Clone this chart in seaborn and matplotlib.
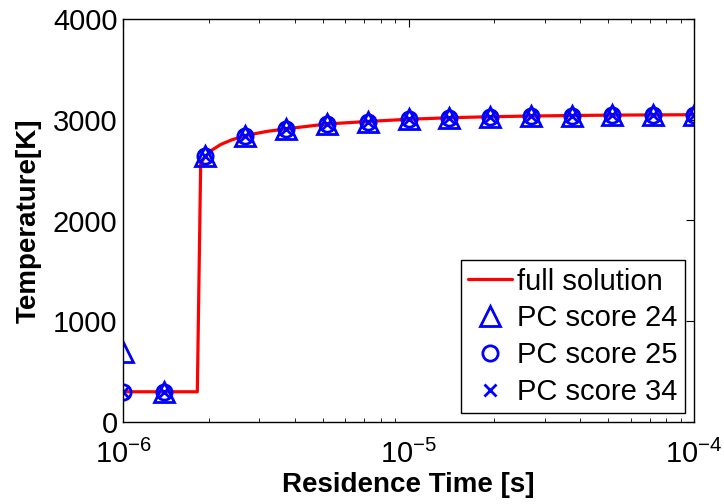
import numpy as np
import matplotlib
matplotlib.use("Agg")
import matplotlib.pyplot as plt
import matplotlib.ticker as mticker
import seaborn as sns

# Full solution (temperature vs. residence time)
t_full = [1.0e-6, 1.82e-6, 1.87e-6, 1.93e-6, 2.05e-6, 2.2e-6, 2.4e-6, 2.68e-6,
          3.2e-6, 3.73e-6, 5.18e-6, 7.2e-6, 1.0e-5, 1.39e-5, 1.93e-5, 2.68e-5,
          3.73e-5, 5.18e-5, 7.2e-5, 1.0e-4]
T_full = [300, 300, 2560, 2630, 2700, 2755, 2800, 2843,
          2885, 2910, 2958, 2983, 3005, 3020, 3030, 3037,
          3042, 3046, 3048, 3050]

# Sampled residence times for the PC-score reconstructions
t_pc = [1.0e-6, 1.39e-6, 1.93e-6, 2.68e-6, 3.73e-6, 5.18e-6, 7.2e-6, 1.0e-5,
        1.39e-5, 1.93e-5, 2.68e-5, 3.73e-5, 5.18e-5, 7.2e-5, 1.0e-4]
T_pc24 = [690, 300, 2637, 2843, 2910, 2960, 2982, 3008,
          3020, 3028, 3035, 3040, 3045, 3048, 3050]
T_pc25 = [298, 300, 2637, 2843, 2910, 2960, 2982, 3008,
          3020, 3028, 3035, 3040, 3045, 3048, 3050]
T_pc34 = [298, 300, 2637, 2843, 2910, 2960, 2982, 3008,
          3020, 3028, 3035, 3040, 3045, 3048, 3050]

labels = ["full solution", "PC score 24", "PC score 25", "PC score 34"]
x_ticks = [1e-6, 1e-5, 1e-4]
y_ticks = [0, 1000, 2000, 3000, 4000]

sns.set_style("white")
plt.rcParams["font.family"] = ["Liberation Sans", "DejaVu Sans"]
plt.rcParams["mathtext.fontset"] = "custom"
plt.rcParams["mathtext.rm"] = "Liberation Sans"
plt.rcParams["mathtext.it"] = "Liberation Sans:italic"
plt.rcParams["mathtext.bf"] = "Liberation Sans:bold"
for key in ("text.color", "axes.labelcolor", "xtick.color", "ytick.color"):
    plt.rcParams[key] = "black"

fig = plt.figure(figsize=(7.24, 5.04), dpi=100)
ax = fig.add_axes([0.170, 0.1627, 0.7886, 0.7996])

blue = (0, 0, 1)
red = (1, 0, 0)

sns.lineplot(x=t_full, y=T_full, ax=ax, color=red, lw=2.3, label=labels[0],
             estimator=None, sort=False)
sns.lineplot(x=t_pc, y=T_pc24, ax=ax, marker="^", linestyle="", markersize=15,
             mfc="none", mec=blue, mew=2.0, color=blue, label=labels[1],
             estimator=None, sort=False)
sns.lineplot(x=t_pc, y=T_pc25, ax=ax, marker="o", linestyle="", markersize=11,
             mfc="none", mec=blue, mew=2.0, color=blue, label=labels[2],
             estimator=None, sort=False)
sns.lineplot(x=t_pc, y=T_pc34, ax=ax, marker="x", linestyle="", markersize=8,
             mfc="none", mec=blue, mew=2.0, color=blue, label=labels[3],
             estimator=None, sort=False)

ax.set_xscale("log")
ax.set_xlim(1e-6, 1e-4)
ax.set_ylim(0, 4000)
ax.set_xticks(x_ticks)
ax.xaxis.set_major_formatter(mticker.LogFormatterMathtext())
ax.xaxis.set_minor_locator(mticker.LogLocator(base=10, subs=np.arange(2, 10)))
ax.xaxis.set_minor_formatter(mticker.NullFormatter())
ax.set_yticks(y_ticks)

for side in ax.spines.values():
    side.set_visible(True)
    side.set_color("black")
    side.set_linewidth(1.0)

ax.tick_params(axis="both", which="major", direction="in", length=6, width=0.8,
               top=True, right=True, labelsize=21, pad=4, colors="black")
ax.tick_params(axis="x", which="minor", direction="in", length=3, width=0.6,
               top=True, bottom=True)
ax.tick_params(axis="x", which="major", pad=13)

ax.set_xlabel("Residence Time [s]", fontsize=20, fontweight="bold", labelpad=2)
ax.set_ylabel("Temperature[K]", fontsize=20, fontweight="bold", labelpad=8)

leg = ax.legend(loc="lower right", fontsize=21, frameon=True, fancybox=False,
                edgecolor="black", framealpha=1, handlelength=1.5,
                handletextpad=0.2, borderpad=0.25, labelspacing=0.3,
                borderaxespad=0.3)
leg.get_frame().set_linewidth(1.0)

fig.savefig("out.png", dpi=100, facecolor="white")
